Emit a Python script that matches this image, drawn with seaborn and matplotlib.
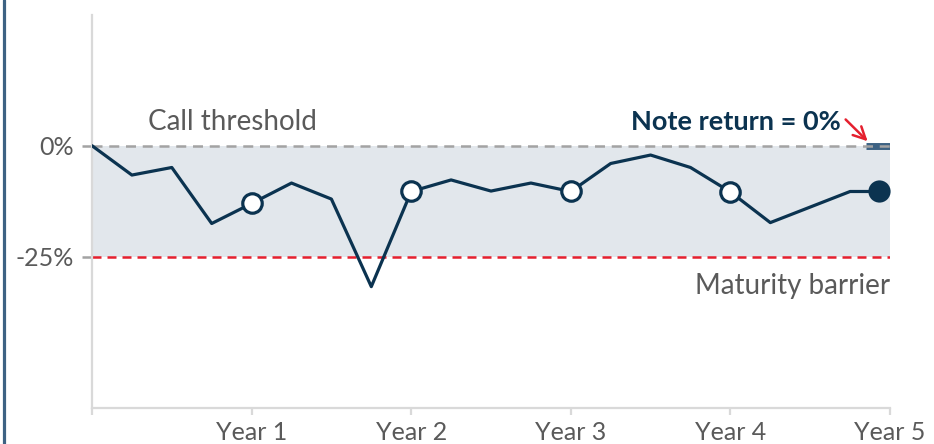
import matplotlib
matplotlib.use("Agg")
import matplotlib.pyplot as plt
from matplotlib.lines import Line2D
import pandas as pd
import seaborn as sns

# Quarterly path of the underlying's performance (%), x in years since issue
years = [0.0, 0.25, 0.5, 0.75, 1.0, 1.25, 1.5, 1.75, 2.0, 2.25, 2.5, 2.75,
         3.0, 3.25, 3.5, 3.75, 4.0, 4.25, 4.75, 4.93]
performance = [0.0, -6.6, -4.9, -17.5, -13.0, -8.4, -12.0, -31.7, -10.3, -7.7,
               -10.2, -8.4, -10.3, -4.0, -2.1, -4.9, -10.4, -17.3, -10.3, -10.3]
observation_years = [1.0, 2.0, 3.0, 4.0]

call_threshold = 0
maturity_barrier = -25
note_return = 0

tick_years = [0, 1, 2, 3, 4, 5]
tick_labels = ["", "Year 1", "Year 2", "Year 3", "Year 4", "Year 5"]
y_ticks = [0, -25]
y_tick_labels = ["0%", "-25%"]

NAVY = "#0b3350"
SLATE = "#3d6283"
GREY_TXT = "#5a5a5a"
GREY_DASH = "#a3a3a3"
RED = "#e5202e"
BAND = "#e2e7ec"
AXIS = "#d9d9d9"

df = pd.DataFrame({"year": years, "perf": performance})
obs = df[df["year"].isin(observation_years)]
final = df.iloc[[-1]]

sns.set_theme(style="white")
plt.rcParams["font.family"] = ["Lato", "DejaVu Sans"]

fig = plt.figure(figsize=(9.34, 4.44), dpi=100)
ax = fig.add_axes([92 / 934, 1 - 408 / 444, (890 - 92) / 934, (408 - 15) / 444])
ax.set_xlim(0, 5)
ax.set_ylim(-59, 29.4)

# Band between barrier and call threshold
ax.axhspan(maturity_barrier, call_threshold, color=BAND, lw=0, zorder=0)

# Final note return drawn as a flat bar at its value
ax.bar([final["year"].iloc[0]], [note_return], width=0.16, bottom=0,
       color=SLATE, edgecolor=SLATE, linewidth=5.0, zorder=1)

ax.axhline(call_threshold, color=GREY_DASH, lw=1.8, ls=(0, (4.0, 2.7)), zorder=2)
ax.axhline(maturity_barrier, color=RED, lw=1.8, ls=(0, (3.6, 2.4)), zorder=2)

sns.lineplot(data=df, x="year", y="perf", ax=ax, color=NAVY, lw=2.3,
             zorder=3, legend=False)
ax.plot(obs["year"], obs["perf"], ls="none", marker="o", ms=14,
        mfc="white", mec=NAVY, mew=2.3, zorder=4)
ax.plot(final["year"], final["perf"], ls="none", marker="o", ms=16,
        mfc=NAVY, mec=NAVY, mew=0, zorder=4)

# Annotations
ax.text(0.35, 3.5, "Call threshold", fontsize=20,
        color=GREY_TXT, ha="left", va="baseline")
ax.text(5.0, -33.4, "Maturity barrier", fontsize=20,
        color=GREY_TXT, ha="right", va="baseline")
ax.text(4.69, 3.5, "Note return = 0%", fontsize=19.5, fontweight="bold",
        color=NAVY, ha="right", va="baseline")
ax.annotate("", xy=(4.86, 1.0), xytext=(4.722, 5.9),
            arrowprops=dict(arrowstyle="->", color=RED, lw=1.8,
                            mutation_scale=22, shrinkA=0, shrinkB=0))

# Axes styling
for side in ["top", "right"]:
    ax.spines[side].set_visible(False)
for side in ["left", "bottom"]:
    ax.spines[side].set_color(AXIS)
    ax.spines[side].set_linewidth(1.6)

ax.set_xticks(tick_years, tick_labels)
ax.set_yticks(y_ticks, y_tick_labels)
ax.tick_params(axis="x", bottom=True, length=5, width=1.6, color=AXIS,
               labelsize=18, labelcolor=GREY_TXT, pad=4)
ax.tick_params(axis="y", left=True, length=7, width=1.8, color=GREY_DASH,
               labelsize=18, labelcolor=GREY_TXT, pad=6)
ax.set_xlabel("")
ax.set_ylabel("")
ax.set_facecolor("white")

# Left edge rule
fig.add_artist(Line2D([3.5 / 934, 3.5 / 934], [0, 1], color=SLATE, lw=2.3))

fig.savefig("out.png", dpi=100, facecolor="white")
